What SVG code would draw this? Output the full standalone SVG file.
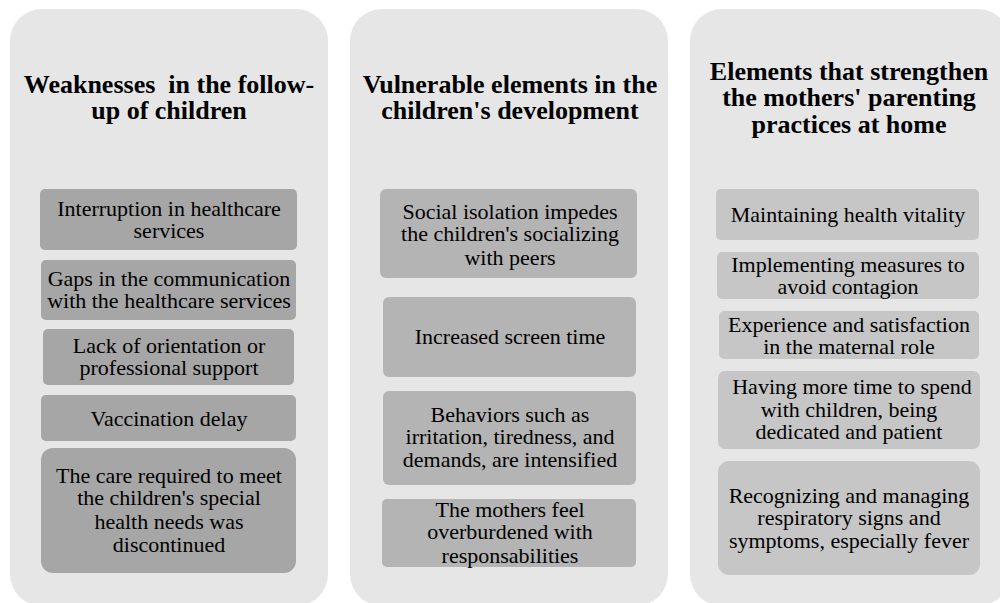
<svg xmlns="http://www.w3.org/2000/svg" width="1000" height="603" viewBox="0 0 1000 603">
<style>
.panel{fill:#e6e6e6}
.b1{fill:#a6a6a6}
.b2{fill:#b4b4b4}
.b3{fill:#c6c6c6}
.title{font-family:"Liberation Serif","Times New Roman",serif;font-weight:bold;font-size:26px;fill:#000;text-anchor:middle;white-space:pre}
.t{font-family:"Liberation Serif","Times New Roman",serif;font-size:22px;fill:#000;text-anchor:middle}
</style>
<rect width="1000" height="603" fill="#ffffff"/>
<g id="col1">
<rect class="panel" x="10" y="9" width="318" height="597" rx="32"/>
<text class="title" xml:space="preserve"><tspan x="169" y="93">Weaknesses  in the follow-</tspan><tspan x="169" y="119">up of children</tspan></text>
</g>
<g id="col2">
<rect class="panel" x="350" y="9" width="318" height="597" rx="32"/>
<text class="title"><tspan x="510" y="93">Vulnerable elements in the</tspan><tspan x="510" y="119">children's development</tspan></text>
</g>
<g id="col3">
<rect class="panel" x="690" y="9" width="320" height="597" rx="32"/>
<text class="title"><tspan x="849" y="80">Elements that strengthen</tspan><tspan x="849" y="106">the mothers' parenting</tspan><tspan x="849" y="133">practices at home</tspan></text>
</g>
<g id="n1a"><rect class="b1" x="40" y="189" width="257" height="61" rx="5"/>
<text class="t"><tspan x="169" y="216">Interruption in healthcare</tspan><tspan x="169" y="238">services</tspan></text></g>
<g id="n1b"><rect class="b1" x="41" y="260" width="255" height="60" rx="5"/>
<text class="t"><tspan x="169" y="286">Gaps in the communication</tspan><tspan x="169" y="308">with the healthcare services</tspan></text></g>
<g id="n1c"><rect class="b1" x="43" y="329" width="251" height="56" rx="5"/>
<text class="t"><tspan x="169" y="353">Lack of orientation or</tspan><tspan x="169" y="375">professional support</tspan></text></g>
<g id="n1d"><rect class="b1" x="41" y="395" width="255" height="46" rx="5"/>
<text class="t" x="169" y="426">Vaccination delay</text></g>
<g id="n1e"><rect class="b1" x="41" y="448" width="255" height="125" rx="12"/>
<text class="t"><tspan x="169" y="483">The care required to meet</tspan><tspan x="169" y="505">the children's special</tspan><tspan x="169" y="529">health needs was</tspan><tspan x="169" y="552">discontinued</tspan></text></g>
<g id="n2a"><rect class="b2" x="380" y="189" width="257" height="89" rx="6"/>
<text class="t"><tspan x="510" y="219">Social isolation impedes</tspan><tspan x="510" y="241">the children's socializing</tspan><tspan x="510" y="265">with peers</tspan></text></g>
<g id="n2b"><rect class="b2" x="383" y="297" width="253" height="80" rx="6"/>
<text class="t" x="510" y="344">Increased screen time</text></g>
<g id="n2c"><rect class="b2" x="383" y="391" width="253" height="94" rx="6"/>
<text class="t"><tspan x="510" y="422">Behaviors such as</tspan><tspan x="510" y="444">irritation, tiredness, and</tspan><tspan x="510" y="467">demands, are intensified</tspan></text></g>
<g id="n2d"><rect class="b2" x="382" y="499" width="254" height="68" rx="5"/>
<text class="t"><tspan x="510" y="517">The mothers feel</tspan><tspan x="510" y="539">overburdened with</tspan><tspan x="510" y="563">responsabilities</tspan></text></g>
<g id="n3a"><rect class="b3" x="716" y="189" width="263" height="51" rx="5"/>
<text class="t" x="848" y="222">Maintaining health vitality</text></g>
<g id="n3b"><rect class="b3" x="717" y="252" width="262" height="47" rx="5"/>
<text class="t"><tspan x="848" y="272">Implementing measures to</tspan><tspan x="848" y="294">avoid contagion</tspan></text></g>
<g id="n3c"><rect class="b3" x="719" y="311" width="260" height="48" rx="5"/>
<text class="t"><tspan x="849" y="332">Experience and satisfaction</tspan><tspan x="849" y="354">in the maternal role</tspan></text></g>
<g id="n3d"><rect class="b3" x="718" y="371" width="262" height="78" rx="7"/>
<text class="t"><tspan x="852" y="394">Having more time to spend</tspan><tspan x="849" y="417">with children, being</tspan><tspan x="849" y="439">dedicated and patient</tspan></text></g>
<g id="n3e"><rect class="b3" x="718" y="461" width="262" height="114" rx="11"/>
<text class="t"><tspan x="849" y="503">Recognizing and managing</tspan><tspan x="849" y="525">respiratory signs and</tspan><tspan x="849" y="548">symptoms, especially fever</tspan></text></g>
<g id="connectors"></g>
</svg>
